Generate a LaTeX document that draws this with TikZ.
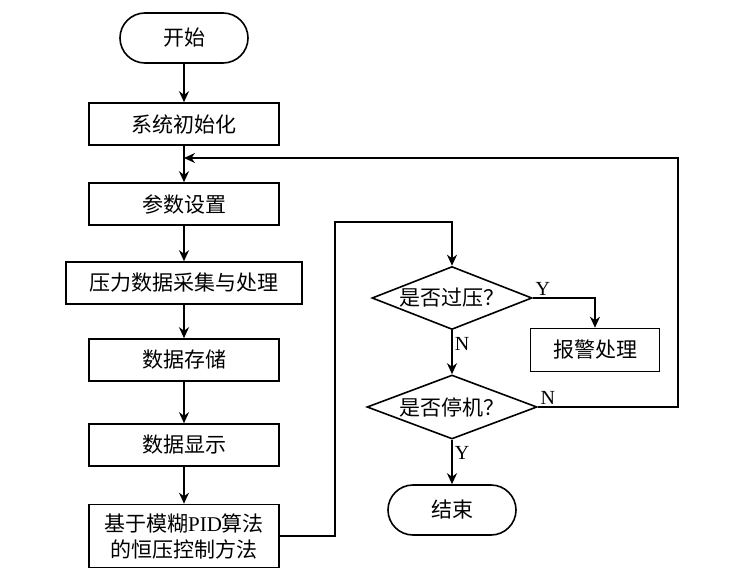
\documentclass[tikz,border=0pt]{standalone}
\usepackage{fontspec}
\setmainfont{Liberation Serif}
\newfontfamily\cjk{Noto Sans CJK SC}
\usetikzlibrary{shapes.geometric,shapes.misc,arrows.meta}
\tikzset{
  box/.style={draw,line width=1.6pt,inner sep=0pt,minimum width=190pt,minimum height=42pt,font=\cjk\fontsize{21}{26}\selectfont,align=center},
  term/.style={box,rounded rectangle,minimum width=128pt,minimum height=50pt},
  decide/.style={box,diamond,aspect=2.6,minimum width=160pt,minimum height=63pt},
  yn/.style={font=\fontsize{20}{22}\selectfont,inner sep=2pt}
}
\begin{document}
\begin{tikzpicture}[x=1pt,y=-1pt,line width=1.6pt,>={Stealth[length=11pt,width=10pt]}]
\useasboundingbox (0,0) rectangle (745,583);
\node[term] (start) at (184,38) {开始};
\node[box] (init) at (184,124) {系统初始化};
\node[box] (para) at (184,204) {参数设置};
\node[box,minimum width=236pt] (acq) at (184,283) {压力数据采集与处理};
\node[box] (store) at (184,360) {数据存储};
\node[box] (disp) at (184,445) {数据显示};
\node[box,minimum height=63pt] (pid) at (184,536) {基于模糊{\rmfamily PID}算法\\的恒压控制方法};
\node[decide] (over) at (452,298) {是否过压？};
\node[box,minimum width=129pt,minimum height=43pt] (alarm) at (595,350) {报警处理};
\node[decide,minimum width=170pt,minimum height=64pt] (halt) at (452,407) {是否停机？};
\node[term] (end) at (452,510) {结束};
\coordinate (up) at (335,222);
\coordinate (corner) at (678,158);
\coordinate (back) at (184,158);
\draw[->] (start) -- (init);
\draw[->] (init) -- (para);
\draw[->] (para) -- (acq);
\draw[->] (acq) -- (store);
\draw[->] (store) -- (disp);
\draw[->] (disp) -- (pid);
\draw[->] (pid.east) -| (up) -| (over.north);
\draw[->] (over.east) node[yn,above right] {Y} -| (alarm.north);
\draw[->] (over) -- node[yn,pos=0.3,right] {N} (halt);
\draw[->] (halt.east) node[yn,above right] {N} -| (corner) -- (back);
\draw[->] (halt) -- node[yn,pos=0.3,right] {Y} (end);
\end{tikzpicture}
\end{document}
